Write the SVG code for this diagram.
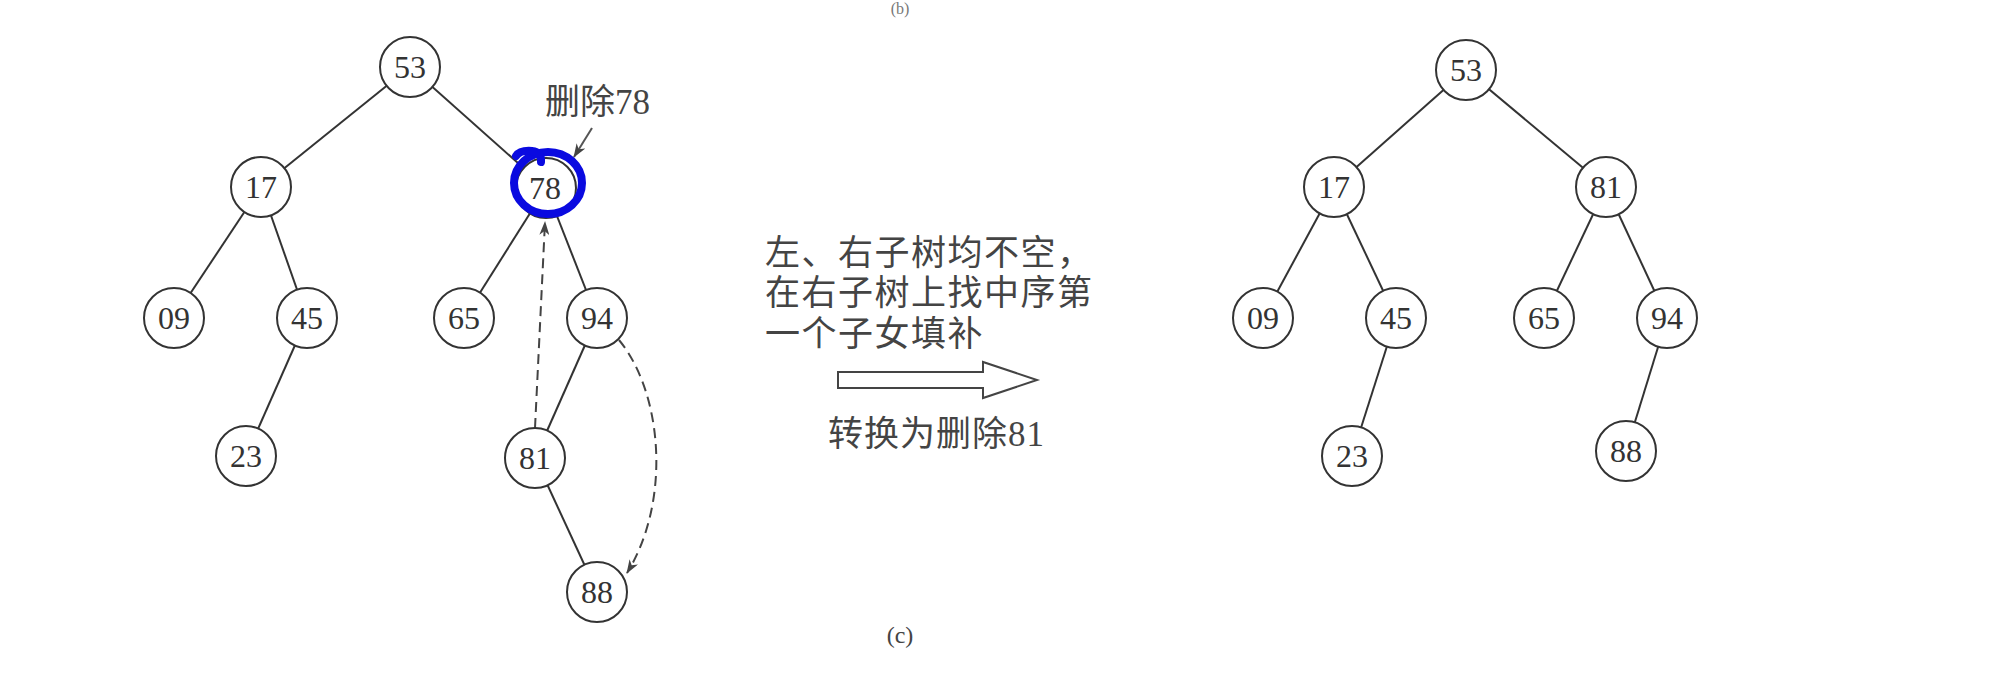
<svg xmlns="http://www.w3.org/2000/svg" width="2008" height="680" viewBox="0 0 2008 680">
<style>
.n circle{fill:#fff;stroke:#333;stroke-width:2}
.n text{font-family:"Liberation Serif","Times New Roman",serif;font-size:32px;fill:#333;text-anchor:middle}
.e line,.e path{stroke:#333;stroke-width:2;fill:none}
.d{stroke:#444;stroke-width:2;fill:none;stroke-dasharray:10 6}
.cjk{font-family:"Liberation Serif","Noto Sans CJK SC",serif;fill:#444;font-size:35px}
</style>
<defs>
<marker id="ah" markerWidth="14" markerHeight="10" refX="13" refY="5" orient="auto" markerUnits="userSpaceOnUse">
<path d="M0,0 L14,5 L0,10 L4,5 z" fill="#444"/>
</marker>
</defs>
<rect width="2008" height="680" fill="#fff"/>
<text x="900" y="14" font-family="Liberation Serif,serif" font-size="16" fill="#777" text-anchor="middle">(b)</text>

<g id="connectors">
<g class="e">
<line x1="410" y1="67" x2="261" y2="187"/>
<line x1="410" y1="67" x2="546" y2="188"/>
<line x1="261" y1="187" x2="174" y2="318"/>
<line x1="261" y1="187" x2="307" y2="318"/>
<line x1="307" y1="318" x2="246" y2="456"/>
<line x1="546" y1="188" x2="464" y2="318"/>
<line x1="546" y1="188" x2="597" y2="318"/>
<line x1="597" y1="318" x2="535" y2="458"/>
<line x1="535" y1="458" x2="597" y2="592"/>
<line x1="1466" y1="70" x2="1334" y2="187"/>
<line x1="1466" y1="70" x2="1606" y2="187"/>
<line x1="1334" y1="187" x2="1263" y2="318"/>
<line x1="1334" y1="187" x2="1396" y2="318"/>
<line x1="1396" y1="318" x2="1352" y2="456"/>
<line x1="1606" y1="187" x2="1544" y2="318"/>
<line x1="1606" y1="187" x2="1667" y2="318"/>
<line x1="1667" y1="318" x2="1626" y2="451"/>
</g>
<path class="d" d="M535,428 L545,222" marker-end="url(#ah)"/>
<path class="d" d="M619,340 C662,392 672,500 627,573" marker-end="url(#ah)"/>
<line x1="592" y1="128" x2="574" y2="157" stroke="#555" stroke-width="2" marker-end="url(#ah)"/>
</g>

<g id="left-tree">
<g id="L53" class="n"><circle cx="410" cy="67" r="30"/><text x="410" y="78">53</text></g>
<g id="L17" class="n"><circle cx="261" cy="187" r="30"/><text x="261" y="198">17</text></g>
<g id="L78" class="n"><circle cx="546" cy="188" r="30"/><text x="545" y="199">78</text></g>
<g id="L09" class="n"><circle cx="174" cy="318" r="30"/><text x="174" y="329">09</text></g>
<g id="L45" class="n"><circle cx="307" cy="318" r="30"/><text x="307" y="329">45</text></g>
<g id="L65" class="n"><circle cx="464" cy="318" r="30"/><text x="464" y="329">65</text></g>
<g id="L94" class="n"><circle cx="597" cy="318" r="30"/><text x="597" y="329">94</text></g>
<g id="L23" class="n"><circle cx="246" cy="456" r="30"/><text x="246" y="467">23</text></g>
<g id="L81" class="n"><circle cx="535" cy="458" r="30"/><text x="535" y="469">81</text></g>
<g id="L88" class="n"><circle cx="597" cy="592" r="30"/><text x="597" y="603">88</text></g>
</g>

<g id="highlight">
<ellipse cx="548" cy="183" rx="34" ry="31" fill="none" stroke="#0a0ae0" stroke-width="8"/>
<path d="M516,156 Q520,150 532,151 Q542,152 541,162" fill="none" stroke="#0a0ae0" stroke-width="8" stroke-linecap="round"/>
</g>

<g id="label-delete78"><text class="cjk" x="545" y="114" font-size="33">删除78</text></g>

<g id="note">
<text class="cjk" x="765" y="265" letter-spacing="1.5">左、右子树均不空，</text>
<text class="cjk" x="765" y="305" letter-spacing="1.5">在右子树上找中序第</text>
<text class="cjk" x="765" y="346" letter-spacing="1.5">一个子女填补</text>
</g>
<g id="big-arrow">
<polygon points="838,372 983,372 983,362 1037,380 983,398 983,388 838,388" fill="#fff" stroke="#444" stroke-width="2"/>
</g>
<g id="note2"><text class="cjk" x="828" y="446" font-size="34" letter-spacing="1">转换为删除81</text></g>

<g id="right-tree">
<g id="R53" class="n"><circle cx="1466" cy="70" r="30"/><text x="1466" y="81">53</text></g>
<g id="R17" class="n"><circle cx="1334" cy="187" r="30"/><text x="1334" y="198">17</text></g>
<g id="R81" class="n"><circle cx="1606" cy="187" r="30"/><text x="1606" y="198">81</text></g>
<g id="R09" class="n"><circle cx="1263" cy="318" r="30"/><text x="1263" y="329">09</text></g>
<g id="R45" class="n"><circle cx="1396" cy="318" r="30"/><text x="1396" y="329">45</text></g>
<g id="R65" class="n"><circle cx="1544" cy="318" r="30"/><text x="1544" y="329">65</text></g>
<g id="R94" class="n"><circle cx="1667" cy="318" r="30"/><text x="1667" y="329">94</text></g>
<g id="R23" class="n"><circle cx="1352" cy="456" r="30"/><text x="1352" y="467">23</text></g>
<g id="R88" class="n"><circle cx="1626" cy="451" r="30"/><text x="1626" y="462">88</text></g>
</g>

<text x="900" y="643" font-family="Liberation Serif,serif" font-size="24" fill="#444" text-anchor="middle">(c)</text>
</svg>
